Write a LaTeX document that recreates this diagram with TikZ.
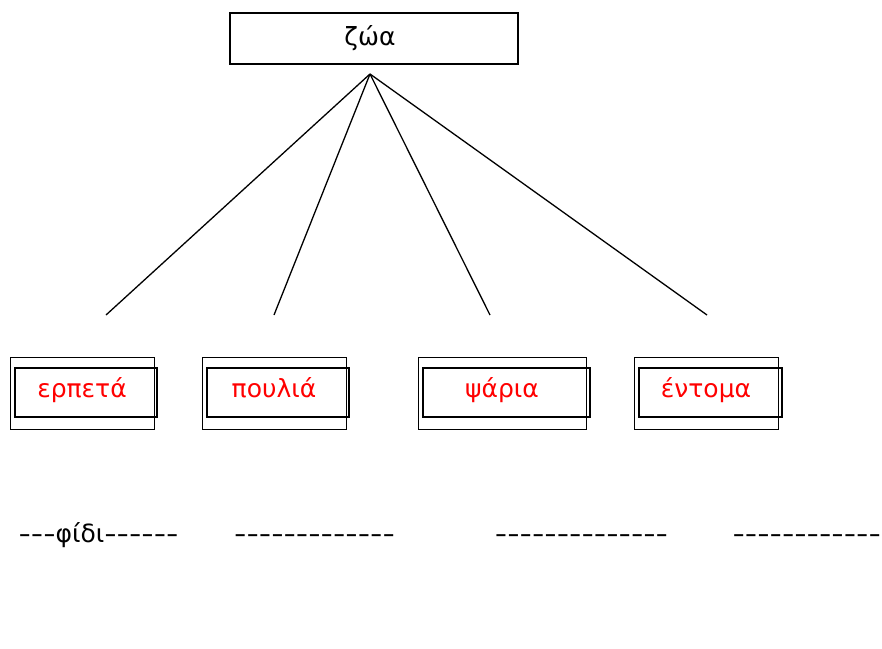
\documentclass[tikz,border=0pt]{standalone}
\usepackage{fontspec}
\setmainfont{DejaVu Sans}
\newfontfamily\dashfont{DejaVu Sans}[FakeStretch=1.37]
\begin{document}
\begin{tikzpicture}[x=1pt,y=-1pt,
    title/.style={draw,line width=1.4pt,inner sep=0pt,minimum width=288pt,minimum height=51pt},
    outerbox/.style={draw,line width=0.9pt,inner sep=0pt,minimum width=144pt,minimum height=72pt},
    innerbox/.style={draw,line width=1.4pt,inner sep=0pt,minimum height=49pt},
    kind/.style={anchor=base,text=red,font=\fontsize{25}{30}\selectfont},
    blank/.style={anchor=base,font=\fontsize{25}{30}\selectfont},
    branch/.style={line width=1.3pt}]
  \useasboundingbox (0,0) rectangle (882,648);
  % top box
  \node[title] (zoa) at (374,38.5) {};
  \node[anchor=base,font=\fontsize{25}{30}\selectfont] (zoatext) at (370,45) {ζώα};
  \coordinate (apex) at (370,74);
  % the four kinds
  \node[outerbox] (o1) at (82,393) {};  \node[innerbox,minimum width=142pt] (b1) at (86,392.5) {};
  \node[outerbox] (o2) at (274.5,393) {}; \node[innerbox,minimum width=142pt] (b2) at (278,392.5) {};
  \node[outerbox,minimum width=168pt] (o3) at (502,393) {}; \node[innerbox,minimum width=167pt] (b3) at (506.5,392.5) {};
  \node[outerbox] (o4) at (706.5,393) {}; \node[innerbox,minimum width=143pt] (b4) at (710.5,392.5) {};
  \node[kind] (t1) at (82,397) {ερπετά};
  \node[kind] (t2) at (274,397) {πουλιά};
  \node[kind] (t3) at (502,397) {ψάρια};
  \node[kind] (t4) at (706,397) {έντομα};
  % branches
  \coordinate (e1) at (106,315);
  \coordinate (e2) at (274,315);
  \coordinate (e3) at (490,315);
  \coordinate (e4) at (707,315);
  \foreach \e in {e1,e2,e3,e4} \draw[branch] (apex) -- (\e);
  % answers
  \node[blank] (a1) at (98.5,542) {{\dashfont ---}φίδι{\dashfont ------}};
  \node[blank] (a2) at (314.5,542) {\dashfont -------------};
  \node[blank] (a3) at (581.5,542) {\dashfont --------------};
  \node[blank,anchor=base west] (a4) at (729,542) {\dashfont -------------};
\end{tikzpicture}
\end{document}
